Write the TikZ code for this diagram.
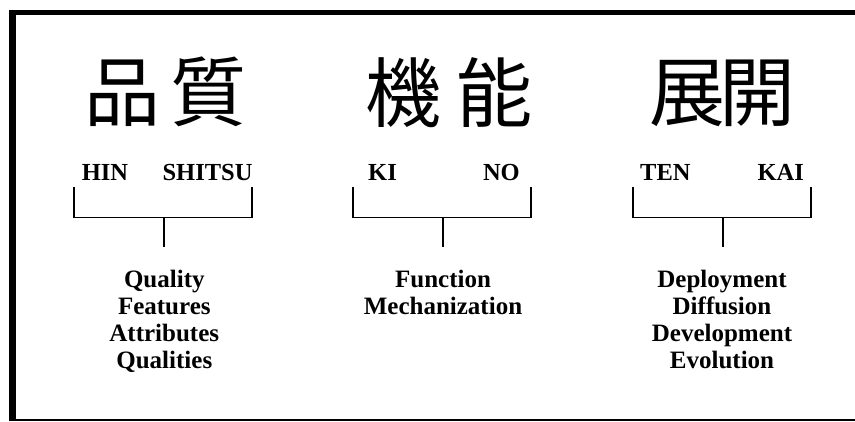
\documentclass[tikz,border=0pt]{standalone}
\usepackage{fontspec}
\setmainfont{Liberation Serif}
\newfontfamily\cjk{Noto Sans CJK JP}
\begin{document}
\begin{tikzpicture}[x=1pt,y=-1pt,
  kanji/.style={inner sep=0pt,anchor=base,font=\cjk\fontsize{76}{80}\selectfont},
  roma/.style={inner sep=0pt,font=\bfseries\fontsize{24.5}{27}\selectfont},
  word/.style={inner sep=0pt,anchor=base,font=\bfseries\fontsize{25}{27}\selectfont},
  brack/.style={line width=1.8pt,line cap=butt},
  frame/.style={line width=6pt}]
\useasboundingbox (0,0) rectangle (855,421);
% frame
\draw[line width=5.5pt] (9,12.7) -- (855,12.7);
\draw[line width=7pt] (12.5,10) -- (12.5,421);
\fill (9,418.5) rectangle (855,421);
% kanji
\node[kanji] (k1a) at (122,120) {品};
\node[kanji] (k1b) at (208,120) {質};
\node[kanji] (k2a) at (403,121) {機};
\node[kanji] (k2b) at (494,121) {能};
\node[kanji] (k3a) at (687,120) {展};
\node[kanji] (k3b) at (757,120) {開};
% romanization
\node[roma,anchor=base west] (r1a) at (81.7,180) {HIN};
\node[roma,anchor=base east] (r1b) at (252.7,180) {SHITSU};
\node[roma,anchor=base west] (r2a) at (368,180) {KI};
\node[roma,anchor=base east] (r2b) at (520,180) {NO};
\node[roma,anchor=base west] (r3a) at (640,180) {TEN};
\node[roma,anchor=base east] (r3b) at (804,180) {KAI};
% brackets
\coordinate (b1l) at (74.3,187); \coordinate (b1r) at (251.7,187);
\coordinate (b1m) at (164.3,217.5); \coordinate (b1s) at (164.3,247);
\coordinate (b2l) at (353,187); \coordinate (b2r) at (531,187);
\coordinate (b2m) at (443,217.5); \coordinate (b2s) at (443,247);
\coordinate (b3l) at (633,187); \coordinate (b3r) at (811,187);
\coordinate (b3m) at (723,217.5); \coordinate (b3s) at (723,247);
\draw[brack] (b1l) |- (b1m) -| (b1r); \draw[brack] (b1m) -- (b1s);
\draw[brack] (b2l) |- (b2m) -| (b2r); \draw[brack] (b2m) -- (b2s);
\draw[brack] (b3l) |- (b3m) -| (b3r); \draw[brack] (b3m) -- (b3s);
% meanings
\node[word] (m1a) at (164.3,287) {Quality};
\node[word] (m1b) at (164.3,314) {Features};
\node[word] (m1c) at (164.3,341) {Attributes};
\node[word] (m1d) at (164.3,368) {Qualities};
\node[word] (m2a) at (443,287) {Function};
\node[word] (m2b) at (443,314) {Mechanization};
\node[word] (m3a) at (722,287) {Deployment};
\node[word] (m3b) at (722,314) {Diffusion};
\node[word] (m3c) at (722,341) {Development};
\node[word] (m3d) at (722,368) {Evolution};
\end{tikzpicture}
\end{document}
